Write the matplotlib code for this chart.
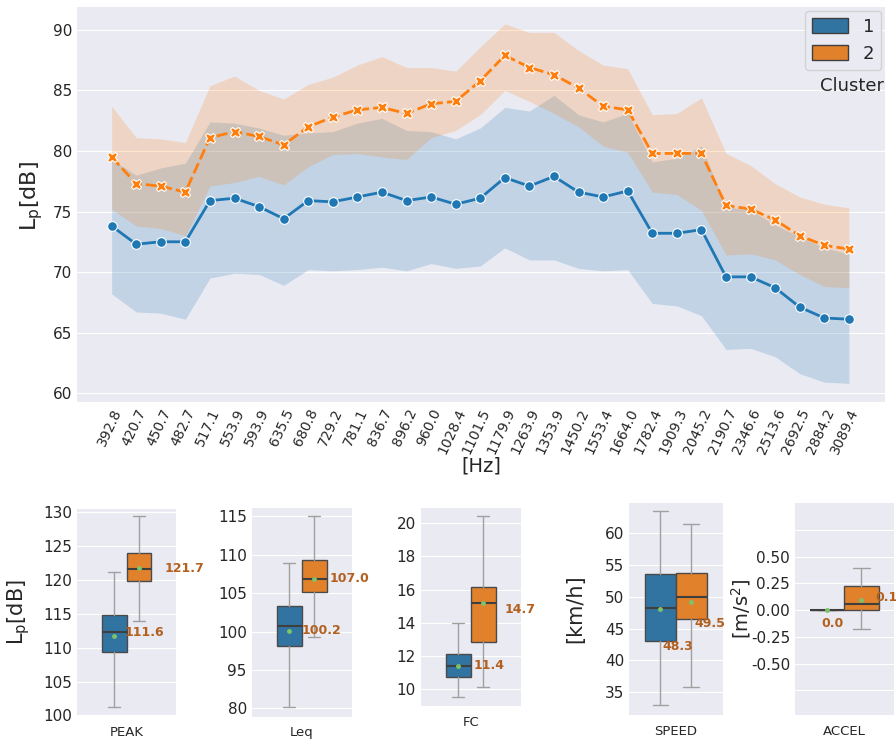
import numpy as np
import matplotlib
matplotlib.use("Agg")
import matplotlib.pyplot as plt
from matplotlib.patches import Patch

# --- top panel: band spectrum per cluster ---
freqs = ["392.8", "420.7", "450.7", "482.7", "517.1", "553.9", "593.9", "635.5",
         "680.8", "729.2", "781.1", "836.7", "896.2", "960.0", "1028.4", "1101.5",
         "1179.9", "1263.9", "1353.9", "1450.2", "1553.4", "1664.0", "1782.4",
         "1909.3", "2045.2", "2190.7", "2346.6", "2513.6", "2692.5", "2884.2", "3089.4"]

c1_mean = [73.8, 72.3, 72.5, 72.5, 75.9, 76.1, 75.4, 74.4, 75.9, 75.8, 76.2, 76.6, 75.9,
           76.2, 75.6, 76.1, 77.8, 77.1, 77.9, 76.6, 76.2, 76.7, 73.2, 73.2, 73.5, 69.6,
           69.6, 68.7, 67.1, 66.2, 66.1]
c1_hi = [79.3, 78.0, 78.6, 79.0, 82.4, 82.3, 81.9, 81.3, 81.5, 81.6, 82.3, 82.7, 81.7,
         81.6, 81.0, 81.9, 83.6, 83.3, 84.6, 83.0, 82.4, 83.1, 79.1, 79.4, 80.4, 75.4,
         75.1, 73.9, 72.9, 72.0, 71.5]
c1_lo = [68.2, 66.7, 66.6, 66.1, 69.5, 69.9, 69.8, 68.9, 70.2, 70.1, 70.2, 70.4, 70.1,
         70.7, 70.3, 70.5, 72.0, 71.0, 71.0, 70.3, 70.1, 70.2, 67.4, 67.2, 66.4, 63.6,
         63.7, 63.0, 61.6, 60.9, 60.8]

c2_mean = [79.5, 77.3, 77.1, 76.6, 81.1, 81.6, 81.2, 80.5, 82.0, 82.8, 83.4, 83.6, 83.1,
           83.9, 84.1, 85.8, 87.9, 86.9, 86.3, 85.2, 83.7, 83.4, 79.8, 79.8, 79.8, 75.5,
           75.2, 74.3, 73.0, 72.2, 71.9]
c2_hi = [83.7, 81.1, 81.0, 80.7, 85.4, 86.2, 85.0, 84.3, 85.5, 86.1, 87.1, 87.8, 86.9,
         86.9, 86.6, 88.6, 90.5, 89.8, 89.8, 88.3, 87.1, 86.8, 83.0, 83.1, 84.4, 79.8,
         78.8, 77.3, 76.2, 75.6, 75.3]
c2_lo = [75.2, 73.8, 73.6, 73.0, 77.1, 77.4, 77.9, 77.2, 78.7, 79.7, 79.8, 79.5, 79.3,
         81.1, 81.7, 83.0, 85.0, 84.1, 83.1, 82.0, 80.4, 79.9, 76.6, 76.4, 75.1, 71.4,
         71.5, 71.0, 69.8, 68.8, 68.7]

# --- bottom panels: box stats [whislo, q1, med, q3, whishi, mean] ---
metrics = ["PEAK", "Leq", "FC", "SPEED", "ACCEL"]
box_c1 = [[101.2, 109.4, 112.3, 114.8, 121.2, 111.7],
          [90.1, 98.1, 100.75, 103.3, 108.9, 100.1],
          [9.55, 10.76, 11.4, 12.1, 13.98, 11.42],
          [33.0, 43.1, 48.2, 53.6, 63.5, 48.1],
          [0.0, 0.0, 0.0, 0.0, 0.0, 0.0]]
box_c2 = [[114.0, 119.9, 121.65, 124.0, 129.5, 121.75],
          [99.3, 105.2, 106.9, 109.3, 115.1, 106.9],
          [10.12, 12.87, 15.2, 16.14, 20.44, 15.2],
          [35.8, 46.5, 50.0, 53.7, 61.5, 49.25],
          [-0.18, 0.0, 0.06, 0.23, 0.396, 0.093]]
label_c1 = [111.6, 100.2, 11.4, 48.3, 0.0]
label_c2 = [121.7, 107.0, 14.7, 49.5, 0.1]

yticks = [[100, 105, 110, 115, 120, 125, 130],
          [90, 95, 100, 105, 110, 115],
          [10, 12, 14, 16, 18, 20],
          [35, 40, 45, 50, 55, 60],
          [-0.75, -0.5, -0.25, 0.0, 0.25, 0.5, 0.75]]
ytick_labels = [None,
                ["80", "95", "100", "105", "110", "115"],
                None,
                None,
                ["", "-0.50", "-0.25", "0.00", "0.25", "0.50", ""]]
ylabels = ["L$_{\\rm p}$[dB]", "", "", "[km/h]", "[m/s$^2$]"]

# layout (pixels) and per-panel placement
W, H = 896, 745
bottom_boxes = [(77, 509, 176, 716), (251.7, 508, 351.7, 716.7), (420.7, 508.3, 520.7, 706),
                (629, 503.3, 722.5, 715), (795, 503.3, 893.5, 715)]
ylims = [(99.9, 130.5), (88.9, 116.1), (9.0, 20.9), (31.4, 64.7), (-0.98, 1.0)]
box_w = [0.25, 0.25, 0.25, 0.33, 0.35]
ylabel_x = [-0.455, 0, 0, -0.47, -0.43]
ylabel_size = [15, 15, 15, 15, 14]
lab_pos_c1 = [(-0.015, 112.3), (0.0, 100.1), (0.03, 11.45), (-0.14, 42.2), (-0.23, -0.125)]
lab_pos_c2 = [(0.38, 121.65), (0.276, 106.9), (0.34, 14.78), (0.2, 45.85), (0.315, 0.115)]

blue, orange = "#1f77b4", "#ff7f0e"
blue_box, orange_box = "#3274a1", "#e1812c"
label_col = "#b3601f"

plt.style.use("seaborn-v0_8-darkgrid")
plt.rcParams["font.family"] = ["DejaVu Sans"]
fig = plt.figure(figsize=(W / 100, H / 100), dpi=100)


def px_axes(l, t, r, b):
    return fig.add_axes([l / W, 1 - b / H, (r - l) / W, (b - t) / H])


ax = px_axes(77, 7, 885, 401.5)
x = np.arange(len(freqs))
ax.fill_between(x, c1_lo, c1_hi, color=blue, alpha=0.2, lw=0)
ax.fill_between(x, c2_lo, c2_hi, color=orange, alpha=0.2, lw=0)
ax.plot(x, c1_mean, color=blue, lw=2, marker="o", ms=7, mec="white", mew=0.8)
ax.plot(x, c2_mean, color=orange, lw=2, ls=(0, (4, 1.5)), marker="X", ms=7.5,
        mec="white", mew=0.8)
ax.set_xlim(-1.41, 31.47)
ax.set_ylim(59.3, 91.9)
ax.set_yticks(range(60, 91, 5))
ax.set_xticks(x)
ax.set_xticklabels(freqs, rotation=65, ha="right", rotation_mode="anchor", fontsize=10)
ax.set_xticks(range(0, 31, 5), minor=True)
ax.grid(which="major", axis="x", visible=False)
ax.grid(which="minor", axis="x", color="white", lw=1)
ax.tick_params(axis="y", labelsize=11)
ax.tick_params(which="both", length=0)
ax.set_xlabel("[Hz]", fontsize=14, labelpad=0)
ax.set_ylabel("L$_{\\rm p}$[dB]", fontsize=16)
ax.yaxis.set_label_coords(-0.04, 0.52)

handles = [Patch(fc=blue_box, ec="#3f3f3f", label="1"),
           Patch(fc=orange_box, ec="#3f3f3f", label="2")]
ax.legend(handles=handles, loc="upper right", fontsize=13, handlelength=2.0,
          handleheight=0.9, borderaxespad=0.2, frameon=True)
fig.text(884 / W, 1 - 86 / H, "Cluster", ha="right", va="center", fontsize=13)

for i, name in enumerate(metrics):
    bx = px_axes(*bottom_boxes[i])
    w = box_w[i]
    stats = []
    for s in (box_c1[i], box_c2[i]):
        stats.append(dict(whislo=s[0], q1=s[1], med=s[2], q3=s[3], whishi=s[4],
                          mean=s[5], fliers=[]))
    res = bx.bxp(stats, positions=[-w / 2, w / 2], widths=w, patch_artist=True,
                 showmeans=True, manage_ticks=False,
                 boxprops=dict(ec="#4a4a4a", lw=1),
                 medianprops=dict(color="#3f3f3f", lw=1.5),
                 whiskerprops=dict(color="#a0a0a0", lw=1),
                 capprops=dict(color="#a0a0a0", lw=1),
                 meanprops=dict(marker="o", ms=2.5, mfc="#7cc36a", mec="#7cc36a"))
    res["boxes"][0].set_facecolor(blue_box)
    res["boxes"][1].set_facecolor(orange_box)
    bx.text(*lab_pos_c1[i], f"{label_c1[i]:.1f}", color=label_col, fontsize=9,
            fontweight="bold", ha="left", va="center", clip_on=False)
    bx.text(*lab_pos_c2[i], f"{label_c2[i]:.1f}", color=label_col, fontsize=9,
            fontweight="bold", ha="left", va="center", clip_on=False)
    bx.set_xlim(-0.5, 0.5)
    bx.set_ylim(*ylims[i])
    bx.set_yticks(yticks[i])
    if ytick_labels[i] is not None:
        bx.set_yticklabels(ytick_labels[i])
    bx.set_xticks([])
    bx.grid(axis="x", visible=False)
    bx.tick_params(axis="y", labelsize=11, length=0)
    bx.set_xlabel(name, fontsize=9.5, labelpad=7)
    if ylabels[i]:
        bx.set_ylabel(ylabels[i], fontsize=ylabel_size[i])
        bx.yaxis.set_label_coords(ylabel_x[i], 0.5)

fig.savefig("out.png", dpi=100)
